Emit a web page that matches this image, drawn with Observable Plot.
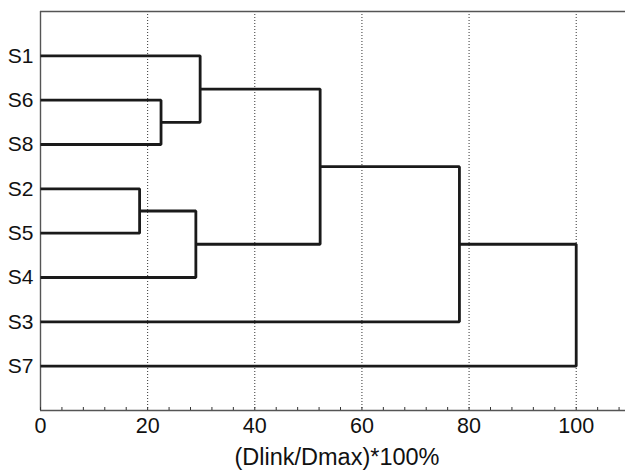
<!DOCTYPE html>
<html>
<head>
<meta charset="utf-8">
<script src="https://cdn.jsdelivr.net/npm/d3@7"></script>
<script src="https://cdn.jsdelivr.net/npm/@observablehq/plot@0.6"></script>
<style>
  html, body { margin: 0; padding: 0; background: #fff; overflow: hidden; }
</style>
</head>
<body>
<div id="chart"></div>
<script>
// Leaves in display order (top to bottom)
const leaves = ["S1", "S6", "S8", "S2", "S5", "S4", "S3", "S7"];
// Merges: cluster C(i+1) = mergeA[i] + mergeB[i] at linkage height mergeHeight[i]
const mergeA = ["S6", "S1", "S2", "C3", "C2", "C5", "C6"];
const mergeB = ["S8", "C1", "S5", "S4", "C4", "S3", "S7"];
const mergeHeight = [22.5, 29.8, 18.5, 29.0, 52.2, 78.2, 100];

const majorTicks = [0, 20, 40, 60, 80, 100];
const gridTicks = [20, 40, 60, 80, 100];
const minorTicks = d3.range(0, 109, 4);
const xLabel = "(Dlink/Dmax)*100%";

// Build node positions and link paths
const node = new Map();
leaves.forEach((name, i) => node.set(name, {pos: i + 1, h: 0}));
const linkPoints = [];
mergeA.forEach((a, i) => {
  const A = node.get(a), B = node.get(mergeB[i]), H = mergeHeight[i];
  const id = "C" + (i + 1);
  linkPoints.push(
    {x: A.h, y: A.pos, z: id},
    {x: H, y: A.pos, z: id},
    {x: H, y: B.pos, z: id},
    {x: B.h, y: B.pos, z: id}
  );
  node.set(id, {pos: (A.pos + B.pos) / 2, h: H});
});

const chart = Plot.plot({
  width: 625,
  height: 471,
  marginLeft: 40,
  marginTop: 11,
  marginBottom: 61,
  marginRight: 0,
  style: {fontFamily: "'Liberation Sans', Arial, sans-serif", color: "#111", background: "#fff"},
  x: {domain: [0, 109.2]},
  y: {domain: [0, 9], reverse: true},
  marks: [
    Plot.ruleX(gridTicks, {stroke: "#333", strokeDasharray: "1,2", strokeWidth: 1}),
    Plot.ruleX([0], {stroke: "#555", strokeWidth: 1.4}),
    Plot.ruleY([0, 9], {stroke: "#555", strokeWidth: 1.4}),
    Plot.axisX(minorTicks, {anchor: "bottom", tickSize: 3, dy: -3, tickFormat: () => "", label: null, stroke: "#333"}),
    Plot.axisX(majorTicks, {anchor: "bottom", tickSize: 0, tickPadding: 7, fontSize: 21.5, label: null, tickFormat: d => String(d)}),
    Plot.axisY(leaves.map((d, i) => i + 1), {anchor: "left", tickSize: 0, tickPadding: 7, fontSize: 21, label: null, tickFormat: d => leaves[d - 1]}),
    Plot.text([xLabel], {frameAnchor: "bottom", dy: 54, dx: 4, fontSize: 23.5, fill: "#111"}),
    Plot.line(linkPoints, {x: "x", y: "y", z: "z", stroke: "#1a1a1a", strokeWidth: 2.8, strokeLinejoin: "miter", strokeLinecap: "butt", curve: "linear"})
  ]
});
document.getElementById("chart").appendChild(chart);
</script>
</body>
</html>
